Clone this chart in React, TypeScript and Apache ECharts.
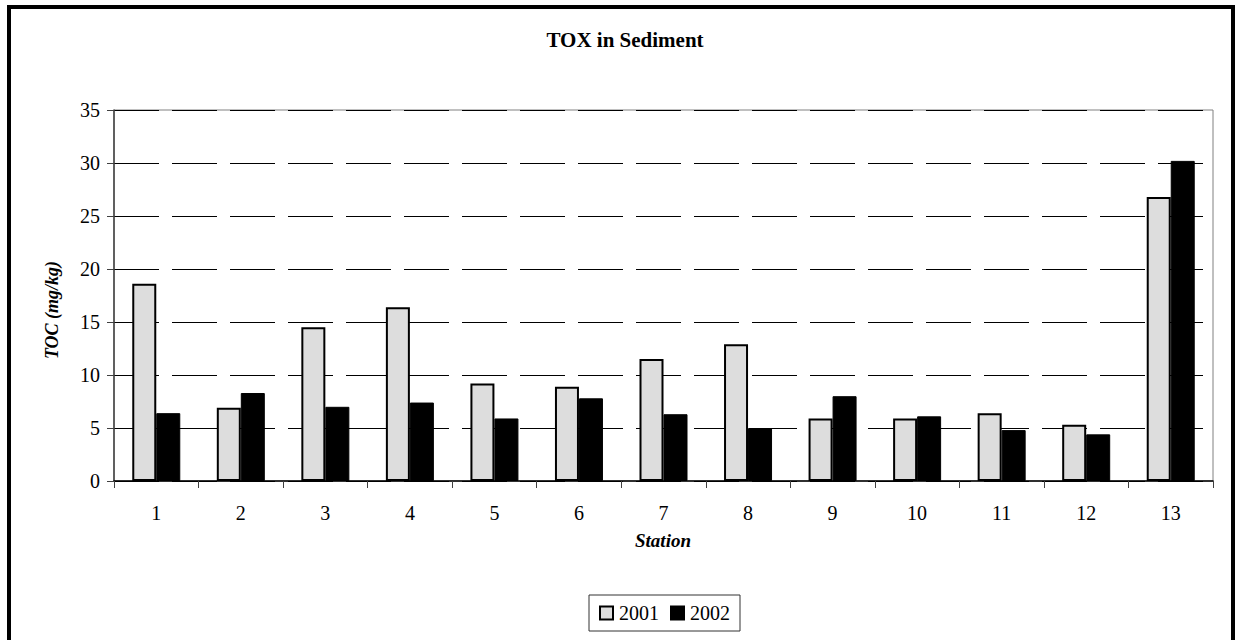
import React, { useEffect, useRef } from "react";
import * as echarts from "echarts";

// Stations sampled and TOX measured in sediment (mg/kg)
const stations = ["1", "2", "3", "4", "5", "6", "7", "8", "9", "10", "11", "12", "13"];
const tox2001 = [18.6, 6.9, 14.5, 16.4, 9.2, 8.9, 11.5, 12.9, 5.9, 5.9, 6.4, 5.3, 26.8];
const tox2002 = [6.4, 8.3, 7.0, 7.4, 5.9, 7.8, 6.3, 5.0, 8.0, 6.1, 4.8, 4.4, 30.2];
const seriesNames = ["2001", "2002"];

const serif = "'Liberation Serif', 'Times New Roman', serif";

export default function App() {
  const ref = useRef<HTMLDivElement>(null);

  useEffect(() => {
    if (!ref.current) return;
    const chart = echarts.init(ref.current, null, { renderer: "svg" });
    chart.setOption({
      animation: false,
      backgroundColor: "#ffffff",
      textStyle: { fontFamily: serif, color: "#000" },
      title: {
        text: "TOX in Sediment",
        left: 620,
        textAlign: "center",
        top: 24,
        textStyle: { fontFamily: serif, fontWeight: "bold", fontSize: 21, color: "#000" },
      },
      graphic: [
        {
          type: "rect",
          shape: { x: 9, y: 7, width: 1224, height: 700 },
          style: { fill: "none", stroke: "#000", lineWidth: 4 },
          silent: true,
        },
        {
          type: "text",
          x: 52,
          y: 310,
          rotation: Math.PI / 2,
          style: {
            text: "TOC (mg/kg)",
            fontFamily: serif,
            fontWeight: "bold",
            fontStyle: "italic",
            fontSize: 18,
            fill: "#000",
            align: "center",
            verticalAlign: "middle",
          },
        },
        {
          type: "text",
          x: 663,
          y: 540,
          style: {
            text: "Station",
            fontFamily: serif,
            fontWeight: "bold",
            fontStyle: "italic",
            fontSize: 19,
            fill: "#000",
            align: "center",
            verticalAlign: "middle",
          },
        },
      ],
      legend: {
        data: seriesNames,
        left: 589,
        top: 595,
        orient: "horizontal",
        itemWidth: 13,
        itemHeight: 13,
        itemGap: 11,
        padding: [8, 10],
        borderColor: "#333",
        borderWidth: 1,
        icon: "rect",
        textStyle: { fontFamily: serif, fontSize: 20, color: "#000", padding: [0, 0, 0, 1] },
      },
      grid: {
        left: 114,
        top: 110,
        width: 1099,
        height: 371,
        show: true,
        borderColor: "#808080",
        borderWidth: 1,
        backgroundColor: "transparent",
      },
      xAxis: {
        type: "category",
        data: stations,
        boundaryGap: true,
        axisLine: { show: true, lineStyle: { color: "#000", width: 1.5 } },
        axisTick: { show: true, length: 7, lineStyle: { color: "#404040" } },
        axisLabel: { fontFamily: serif, fontSize: 20, color: "#000", margin: 22 },
        splitLine: { show: false },
      },
      yAxis: {
        type: "value",
        min: 0,
        max: 35,
        interval: 5,
        axisLine: { show: true, lineStyle: { color: "#404040", width: 1.5 } },
        axisTick: { show: true, length: 7, lineStyle: { color: "#404040" } },
        axisLabel: { fontFamily: serif, fontSize: 20, color: "#000", margin: 14 },
        splitLine: {
          show: true,
          lineStyle: { color: "#000", width: 1, type: [45, 13] },
        },
      },
      series: [
        {
          name: seriesNames[0],
          type: "bar",
          data: tox2001,
          barWidth: 24,
          barGap: "0%",
          itemStyle: { color: "#dddddd", borderColor: "#000", borderWidth: 2 },
        },
        {
          name: seriesNames[1],
          type: "bar",
          data: tox2002,
          barWidth: 24,
          barGap: "0%",
          itemStyle: { color: "#000", borderColor: "#000", borderWidth: 1 },
        },
      ],
    });
    return () => chart.dispose();
  }, []);

  return (
    <div
      ref={ref}
      style={{ position: "fixed", left: 0, top: 0, width: 1235, height: 640 }}
    />
  );
}
